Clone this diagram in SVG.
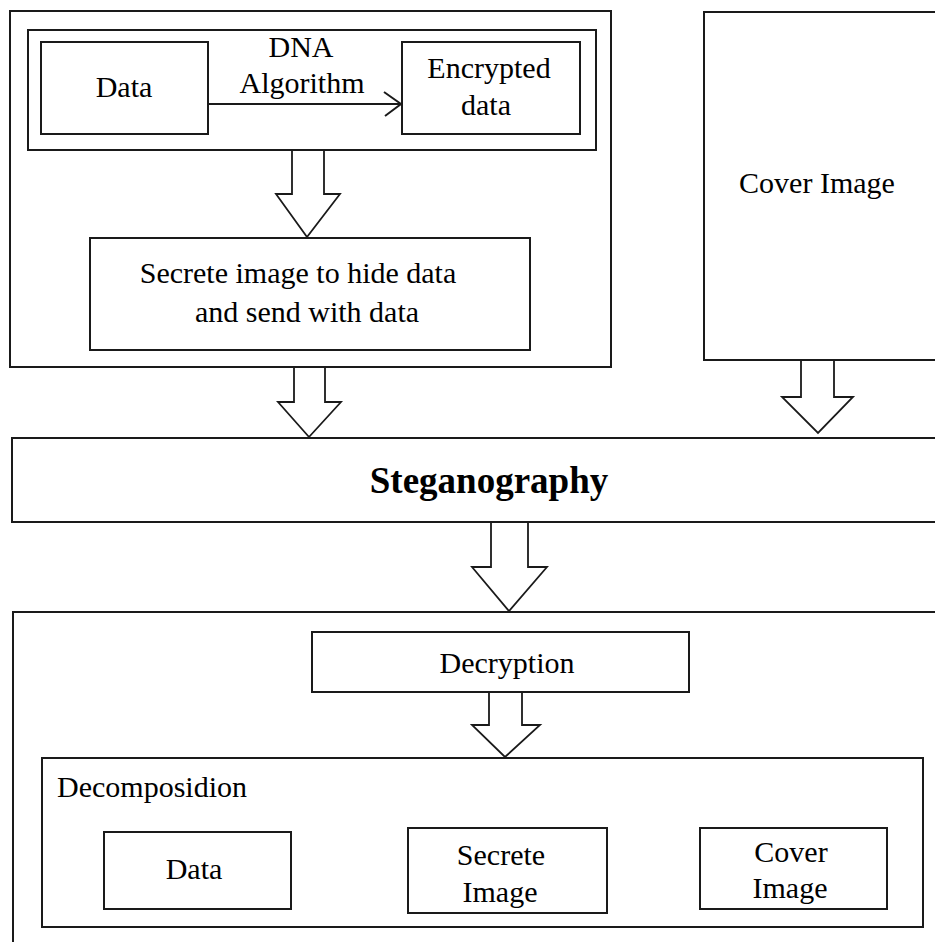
<svg xmlns="http://www.w3.org/2000/svg" width="935" height="942" viewBox="0 0 935 942">
<defs>
<style>
.box{fill:#fff;stroke:#1a1a1a;stroke-width:2}
.t{font-family:"Liberation Serif","Times New Roman",serif;font-size:30px;fill:#000}
.c{text-anchor:middle}
.b{font-weight:bold;font-size:37px}
.ba{fill:#fff;stroke:#1a1a1a;stroke-width:1.8;stroke-linejoin:miter}
.ln{fill:none;stroke:#1a1a1a;stroke-width:2}
</style>
</defs>
<rect width="935" height="942" fill="#fff"/>
<g id="sender">
<rect class="box" x="10" y="11" width="601" height="356"/>
</g>
<g id="dna-block">
<rect class="box" x="28" y="30" width="568" height="120"/>
</g>
<g id="data-in">
<rect class="box" x="41" y="42" width="167" height="92"/>
<text class="t c" x="124" y="97">Data</text>
</g>
<g id="encrypted">
<rect class="box" x="402" y="42" width="178" height="92"/>
<text class="t c" x="489" y="78">Encrypted</text>
<text class="t c" x="486" y="115">data</text>
</g>
<g id="dna-label">
<text class="t c" x="301" y="57">DNA</text>
<text class="t c" x="302" y="93">Algorithm</text>
</g>
<g id="secrete">
<rect class="box" x="90" y="238" width="440" height="112"/>
<text class="t c" x="298" y="283">Secrete image to hide data</text>
<text class="t c" x="307" y="322">and send with data</text>
</g>
<g id="cover">
<rect class="box" x="704" y="12" width="240" height="348"/>
<text class="t c" x="817" y="193">Cover Image</text>
</g>
<g id="steganography">
<rect class="box" x="12" y="438" width="932" height="84"/>
<text class="t c b" x="489" y="493">Steganography</text>
</g>
<g id="receiver">
<rect class="box" x="13" y="612" width="932" height="340"/>
</g>
<g id="decryption">
<rect class="box" x="312" y="632" width="377" height="60"/>
<text class="t c" x="507" y="673">Decryption</text>
</g>
<g id="decomposition">
<rect class="box" x="42" y="758" width="881" height="169"/>
<text class="t" x="57" y="797">Decomposidion</text>
</g>
<g id="out-data">
<rect class="box" x="104" y="832" width="187" height="77"/>
<text class="t c" x="194" y="879">Data</text>
</g>
<g id="out-secrete">
<rect class="box" x="408" y="828" width="199" height="85"/>
<text class="t c" x="501" y="865">Secrete</text>
<text class="t c" x="500" y="902">Image</text>
</g>
<g id="out-cover">
<rect class="box" x="700" y="828" width="187" height="81"/>
<text class="t c" x="791" y="862">Cover</text>
<text class="t c" x="790" y="898">Image</text>
</g>
<g id="connectors">
<line class="ln" x1="208" y1="104" x2="401" y2="104"/>
<polyline class="ln" points="384,92 401,104 385,116" stroke-width="1.5"/>
<path class="ba" d="M292,151 V194 H276 L307,237 L340,194 H324 V151"/>
<path class="ba" d="M294,368 V402 H278 L309,437 L341,402 H325 V368"/>
<path class="ba" d="M801,361 V397 H782 L818,433 L853,397 H834 V361"/>
<path class="ba" d="M491,523 V567 H472 L509,611 L547,567 H528 V523"/>
<path class="ba" d="M489,693 V725 H472 L505,757 L540,725 H522 V693"/>
</g>
</svg>
